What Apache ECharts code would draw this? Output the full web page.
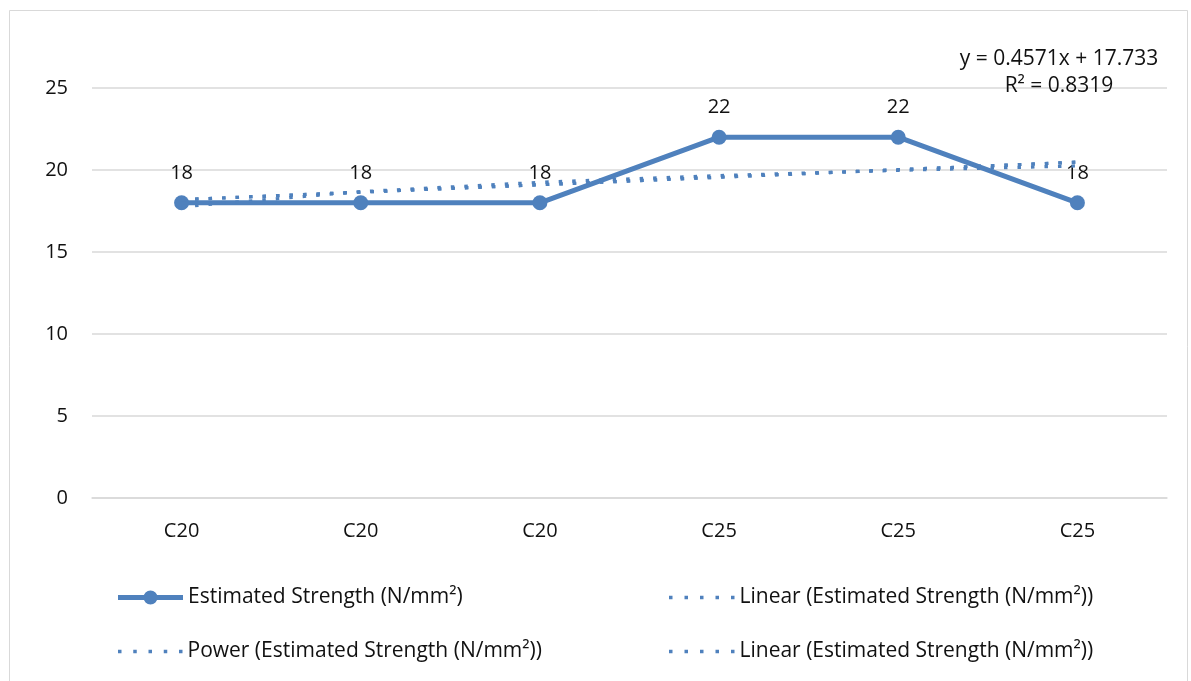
<!DOCTYPE html>
<html>
<head>
<meta charset="utf-8">
<script src="https://cdn.jsdelivr.net/npm/echarts@6/dist/echarts.min.js"></script>
<style>
  html, body { margin: 0; padding: 0; background: #ffffff; }
  #chart { width: 1191px; height: 681px; }
</style>
</head>
<body>
<div id="chart"></div>
<script>
// Concrete grade for each sample
const categories = ['C20', 'C20', 'C20', 'C25', 'C25', 'C25'];
// Estimated strength per sample (N/mm²)
const strength = [18, 18, 18, 22, 22, 18];
// Linear trend values at each sample
const linearTrend = [18.19, 18.65, 19.10, 19.56, 20.02, 20.48];
// Power trend values at each sample
const powerTrend = [17.76, 18.68, 19.25, 19.66, 19.98, 20.25];
// Value axis ticks
const yTicks = [0, 5, 10, 15, 20, 25];
// Trendline equation text
const equationLines = ['y = 0.4571x + 17.733', 'R² = 0.8319'];

const seriesName = 'Estimated Strength (N/mm²)';
const linearName = 'Linear (Estimated Strength (N/mm²))';
const powerName = 'Power (Estimated Strength (N/mm²))';
const linearName2 = linearName + ' ';

const blue = '#4F81BD';
const font = '"Open Sans", "Noto Sans", sans-serif';
const fontSize = 20;
const legendFontSize = 21;
const textColor = '#111111';

// Legend glyphs: thick line with a round marker, and a row of square dots
const lineMarkerIcon = 'path://M0,4.5h65v5h-65z M25.5,7a7,7 0 1,1 14,0a7,7 0 1,1 -14,0z';
function dotsIcon(step) {
  let d = '';
  for (let i = 0; i < 5; i++) {
    d += 'M' + (i * step) + ',0h3.5v3.5h-3.5z ';
  }
  return 'path://' + d.trim();
}

const chart = echarts.init(document.getElementById('chart'), null, { renderer: 'canvas' });

const trendStyle = { color: blue, width: 3.2, type: [3.5, 10], cap: 'butt' };

const legendText = { fontFamily: font, fontSize: legendFontSize, color: textColor };

function legendAt(left, top, name, icon, w, h) {
  return {
    left: left,
    top: top,
    itemWidth: w,
    itemHeight: h,
    itemGap: 0,
    selectedMode: false,
    textStyle: legendText,
    data: [{ name: name, icon: icon, itemStyle: { color: blue } }]
  };
}

chart.setOption({
  animation: false,
  backgroundColor: '#ffffff',
  grid: { left: 92, right: 24, top: 88, bottom: 183, containLabel: false },
  xAxis: {
    type: 'category',
    data: categories,
    boundaryGap: true,
    axisLine: { show: true, lineStyle: { color: '#d9d9d9', width: 1.5 } },
    axisTick: { show: false },
    axisLabel: { fontFamily: font, fontSize: fontSize, color: textColor, margin: 23 }
  },
  yAxis: {
    type: 'value',
    min: yTicks[0],
    max: yTicks[yTicks.length - 1],
    interval: yTicks[1] - yTicks[0],
    axisLine: { show: false },
    axisTick: { show: false },
    splitLine: { lineStyle: { color: '#d9d9d9', width: 1.5 } },
    axisLabel: { fontFamily: font, fontSize: fontSize, color: textColor, margin: 24 }
  },
  legend: [
    legendAt(113, 582, seriesName, lineMarkerIcon, 65, 14),
    legendAt(664, 582, linearName, dotsIcon(15.5), 65.5, 3.5),
    legendAt(113, 636, powerName, dotsIcon(15.25), 64.5, 3.5),
    legendAt(664, 636, linearName2, dotsIcon(15.5), 65.5, 3.5)
  ],
  series: [
    {
      name: seriesName,
      type: 'line',
      data: strength,
      symbol: 'circle',
      symbolSize: 15,
      itemStyle: { color: blue },
      lineStyle: { color: blue, width: 5 },
      label: {
        show: true,
        position: 'top',
        distance: 12,
        fontFamily: font,
        fontSize: fontSize,
        color: textColor
      },
      z: 2
    },
    {
      name: linearName,
      type: 'line',
      data: linearTrend,
      symbol: 'none',
      lineStyle: trendStyle,
      itemStyle: { color: blue },
      z: 3
    },
    {
      name: powerName,
      type: 'line',
      data: powerTrend,
      symbol: 'none',
      lineStyle: trendStyle,
      itemStyle: { color: blue },
      z: 3
    },
    {
      name: linearName2,
      type: 'line',
      data: linearTrend,
      symbol: 'none',
      lineStyle: trendStyle,
      itemStyle: { color: blue },
      z: 3
    }
  ],
  graphic: [
    {
      type: 'rect',
      shape: { x: 9.5, y: 10.5, width: 1178, height: 700 },
      style: { fill: 'none', stroke: '#d9d9d9', lineWidth: 1 },
      silent: true,
      z: -1
    },
    {
      type: 'text',
      x: 1059,
      y: 59,
      style: {
        text: equationLines[0],
        fontFamily: font,
        fontSize: legendFontSize,
        fill: textColor,
        align: 'center',
        verticalAlign: 'middle'
      },
      z: 10
    },
    {
      type: 'text',
      x: 1059,
      y: 86,
      style: {
        text: equationLines[1],
        fontFamily: font,
        fontSize: legendFontSize,
        fill: textColor,
        align: 'center',
        verticalAlign: 'middle'
      },
      z: 10
    }
  ]
});
</script>
</body>
</html>
